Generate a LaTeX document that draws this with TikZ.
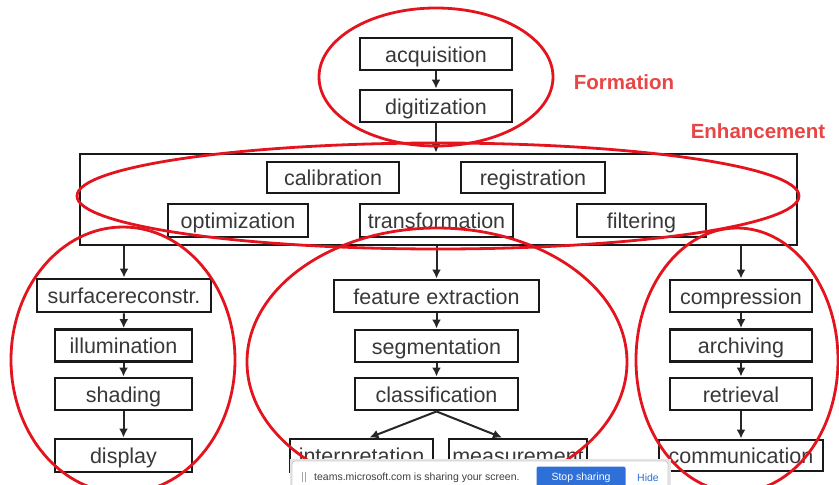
\documentclass[tikz,border=0pt]{standalone}
\usepackage{fontspec}
\setmainfont{Liberation Sans}
\usetikzlibrary{arrows.meta}

\definecolor{boxgray}{HTML}{383838}
\definecolor{markred}{HTML}{E3141E}
\definecolor{labelred}{HTML}{E84545}
\definecolor{teamsblue}{HTML}{2F6FD8}

\tikzset{
  stage/.style={draw=black!90, line width=2.9pt, text=boxgray, inner sep=0pt,
    minimum height=32, text height=19.5pt, text depth=3pt,
    font=\fontsize{21.5}{23}\selectfont},
  flow/.style={draw=black!85, line width=2pt, -{Latex[length=9pt,width=9pt]}},
  ring/.style={draw=markred, line width=2.8pt},
  grouplabel/.style={text=labelred, font=\bfseries\fontsize{20.5}{22}\selectfont},
}

\begin{document}
\begin{tikzpicture}[x=1pt,y=-1pt]
\useasboundingbox (0,0) rectangle (839,485);

% formation
\node[stage, minimum width=152] (acq) at (436,54) {acquisition};
\node[stage, minimum width=152] (dig) at (436,106) {digitization};

% enhancement
\node[stage, minimum width=717, minimum height=91] (enh) at (438.5,199.5) {};
\node[stage, minimum width=132, minimum height=31] (cal) at (333,177.5) {calibration};
\node[stage, minimum width=144, minimum height=31] (reg) at (533,177.5) {registration};
\node[stage, minimum width=140, minimum height=33] (opt) at (238,220.5) {optimization};
\node[stage, minimum width=153, minimum height=33] (trf) at (436.5,220.5) {transformation};
\node[stage, minimum width=129, minimum height=33] (fil) at (641.5,220.5) {filtering};

% visualization
\node[stage, minimum width=174, minimum height=33] (srf) at (124,295.5) {surfacereconstr.};
\node[stage, minimum width=137] (ill) at (123.5,345.5) {illumination};
\node[stage, minimum width=137] (shd) at (123.5,394) {shading};
\node[stage, minimum width=137, minimum height=33] (dsp) at (123.5,455.5) {display};

% analysis
\node[stage, minimum width=205] (fex) at (436.5,296) {feature extraction};
\node[stage, minimum width=163] (seg) at (436.5,346) {segmentation};
\node[stage, minimum width=163] (cls) at (436.5,394) {classification};
\node[stage, minimum width=143, minimum height=33] (itp) at (361.5,455.5) {interpretation};
\node[stage, minimum width=138, minimum height=33] (msr) at (518,455.5) {measurement};

% management
\node[stage, minimum width=142] (cmp) at (741,296) {compression};
\node[stage, minimum width=142] (arc) at (741,345.5) {archiving};
\node[stage, minimum width=142] (ret) at (741,394) {retrieval};
\node[stage, minimum width=164, minimum height=31] (com) at (741,455.5) {communication};

% arrows
\draw[flow] (acq) -- (dig);
\draw[flow] (dig) -- (dig.south |- enh.north);
\draw[flow] (srf.north |- enh.south) -- (srf);
\draw[flow] (fex.north |- enh.south) -- (fex);
\draw[flow] (cmp.north |- enh.south) -- (cmp);
\draw[flow] (srf) -- (ill);
\draw[flow] (ill) -- (shd);
\draw[flow] (shd) -- (dsp);
\draw[flow] (fex) -- (seg);
\draw[flow] (seg) -- (cls);
\draw[flow] (cls.south) -- ([xshift=8]itp.north);
\draw[flow] (cls.south) -- ([xshift=-16]msr.north);
\draw[flow] (cmp) -- (arc);
\draw[flow] (arc) -- (ret);
\draw[flow] (ret) -- (com);

% red marks
\draw[ring] (436,77) ellipse [x radius=117, y radius=69];
\draw[ring] (438,196) ellipse [x radius=361, y radius=53];
\draw[ring] (123,360) ellipse [x radius=112, y radius=133];
\draw[ring] (437,362) ellipse [x radius=190, y radius=134];
\draw[ring] (737,360) ellipse [x radius=101, y radius=132];
\node[grouplabel] (form) at (624,82) {Formation};
\node[grouplabel] (enhl) at (758,131) {Enhancement};

% sharing bar
\fill[black!10] (290,459) rectangle (671,490);
\filldraw[fill=white, draw=black!20, line width=0.8pt, rounded corners=3] (292,461) rectangle (668,492);
\draw[black!35, line width=0.8pt] (302,472) -- (302,482) (305,472) -- (305,482);
\node[anchor=west, text=black!75, font=\fontsize{10.5}{12}\selectfont, inner sep=0pt] (msg) at (314,477.5) {teams.microsoft.com is sharing your screen.};
\node[fill=teamsblue, text=white, minimum width=89, minimum height=22, inner sep=0pt,
  rounded corners=2, font=\fontsize{10.5}{12}\selectfont] (stop) at (581,477.5) {Stop sharing};
\node[text=teamsblue, font=\fontsize{10.5}{12}\selectfont, inner sep=0pt] (hide) at (648,477.5) {Hide};
\end{tikzpicture}
\end{document}
